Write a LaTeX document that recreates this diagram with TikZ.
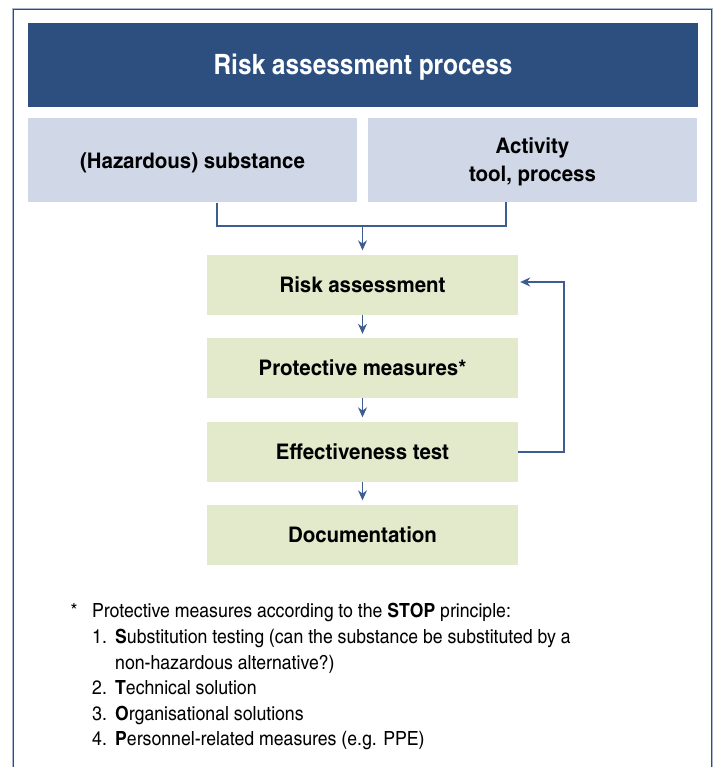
\documentclass[tikz,border=0pt]{standalone}
\usepackage{fontspec}
\setmainfont{texgyreheroscn}[Extension=.otf, UprightFont=*-regular, BoldFont=*-bold,
  ItalicFont=*-italic, BoldItalicFont=*-bolditalic, FakeStretch=1.105]
\newfontfamily\headfont{texgyreheroscn}[Extension=.otf, UprightFont=*-bold, FakeStretch=1.065]
\newfontfamily\boxfont{texgyreheroscn}[Extension=.otf, UprightFont=*-bold, FakeStretch=1.16]
\usetikzlibrary{arrows.meta}

\definecolor{navy}{HTML}{2D4F80}
\definecolor{paleblue}{HTML}{D0D8E8}
\definecolor{palegreen}{HTML}{E2EACB}
\definecolor{linkblue}{HTML}{3D5D90}
\definecolor{framelight}{HTML}{A8B8CE}

\tikzset{
  headbox/.style={fill=navy, text=white, inner sep=0pt, minimum width=670pt, minimum height=84pt,
    text height=20pt, text depth=0pt, font=\fontsize{28}{32}\selectfont\headfont},
  inputbox/.style={fill=paleblue, inner sep=0pt, minimum width=329pt, minimum height=84pt,
    font=\fontsize{21.5}{27.4}\selectfont\boxfont},
  onecap/.style={text height=15.6pt, text depth=0pt},
  stepbox/.style={fill=palegreen, inner sep=0pt, minimum width=311pt, minimum height=60pt,
    onecap, font=\fontsize{21.5}{26}\selectfont\boxfont},
  link/.style={draw=linkblue, line width=1.3pt},
  flow/.style={link, -{Stealth[length=10pt, width=9pt]}},
  notetext/.style={anchor=base west, inner sep=0pt, font=\fontsize{19.5}{23}\selectfont},
}

\begin{document}
\begin{tikzpicture}[x=1pt, y=-1pt]
  \useasboundingbox (0,0) rectangle (718,767);

  % outer frame, open at the bottom
  \draw[framelight, line width=0.8pt] (12.5,767) -- (12.5,8) -- (712.5,8) -- (712.5,767);
  \draw[navy, line width=1.2pt] (13.8,767) -- (13.8,9.3) -- (711.2,9.3) -- (711.2,767);

  % heading and the two inputs
  \node[headbox] (head) at (363,65) {Risk assessment process};
  \node[inputbox, onecap] (subst) at (192.5,160.5) {(Hazardous) substance};
  \node[fill=paleblue, minimum width=329pt, minimum height=84pt] (activity) at (532.5,160) {};
  \node[inputbox, fill=none, minimum width=0pt, minimum height=0pt, align=center]
    (activitytext) at (532.5,162) {Activity\\tool, process};

  % process steps
  \node[stepbox] (risk) at (362.5,284.5) {Risk assessment};
  \node[stepbox] (prot) at (362.5,368) {Protective measures*};
  \node[stepbox] (eff)  at (362.5,451.5) {Effectiveness test};
  \node[stepbox] (doc)  at (362.5,534.5) {Documentation};

  % inputs join and feed the assessment
  \coordinate (joinL) at (217,226);
  \coordinate (joinR) at (506,226);
  \coordinate (joinM) at (362.5,226);
  \draw[link] (subst.south -| joinL) -- (joinL) -- (joinR) -- (activity.south -| joinR);
  \draw[flow, shorten >=4pt] (joinM) -- (risk.north);

  % step sequence
  \draw[flow, shorten >=4pt] (risk.south) -- (prot.north);
  \draw[flow, shorten >=4pt] (prot.south) -- (eff.north);
  \draw[flow, shorten >=4pt] (eff.south) -- (doc.north);

  % feedback loop from the test back to the assessment
  \coordinate (loopB) at (564,452);
  \coordinate (loopT) at (564,282);
  \draw[flow, shorten >=2pt] (eff.east |- loopB) -- (loopB) -- (loopT) -- (risk.east |- loopT);

  % footnote on the STOP principle
  \node[notetext] (star) at (70.5,617.7) {*};
  \node[notetext] (note) at (92,617.7) {Protective measures according to the \textbf{STOP} principle:};
  \node[notetext] (n1)  at (92,643.3) {1.};
  \node[notetext] (s1)  at (115,643.3) {\textbf{S}ubstitution testing (can the substance be substituted by a};
  \node[notetext] (s1b) at (115,669) {non-hazardous alternative?)};
  \node[notetext] (n2)  at (92,694.6) {2.};
  \node[notetext] (s2)  at (115,694.6) {\textbf{T}echnical solution};
  \node[notetext] (n3)  at (92,720.2) {3.};
  \node[notetext] (s3)  at (115,720.2) {\textbf{O}rganisational solutions};
  \node[notetext] (n4)  at (92,745.8) {4.};
  \node[notetext] (s4)  at (115,745.8) {\textbf{P}ersonnel-related measures (e.g. PPE)};
\end{tikzpicture}
\end{document}
